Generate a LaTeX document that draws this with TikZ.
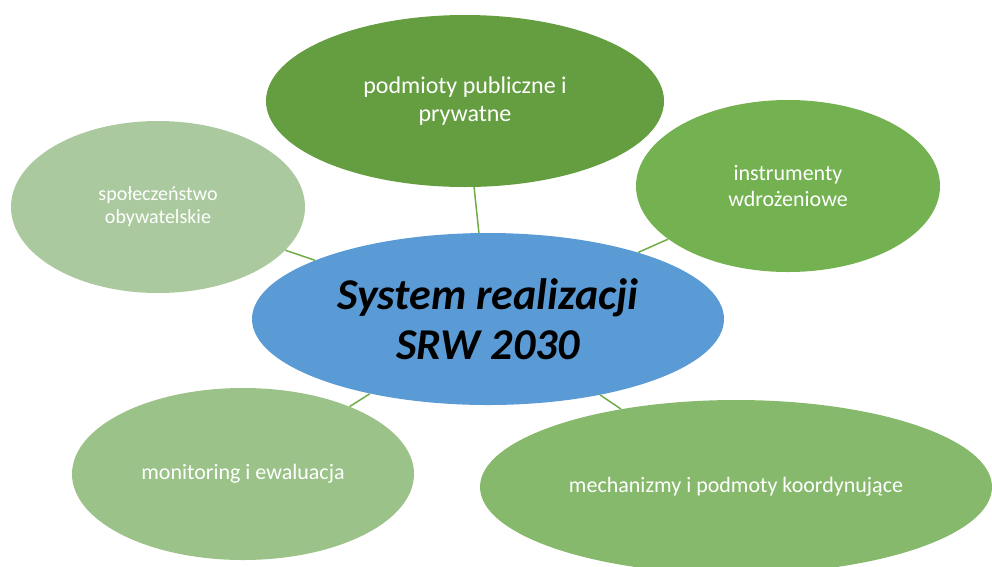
\documentclass[tikz,border=0pt]{standalone}
\usepackage{fontspec}
\setmainfont{Carlito}
\usepackage{xcolor}
\usetikzlibrary{positioning,shapes.geometric}

\definecolor{hubblue}{HTML}{5B9BD5}
\definecolor{darkgreen}{HTML}{659E40}
\definecolor{midgreen}{HTML}{74B150}
\definecolor{softgreen}{HTML}{87B96D}
\definecolor{palegreen}{HTML}{9BC288}
\definecolor{fadegreen}{HTML}{ABC99E}
\definecolor{linkgreen}{HTML}{70AD47}

\begin{document}
\begin{tikzpicture}[x=1pt, y=-1pt,
    bubble/.style={ellipse, inner sep=0pt, text=white, align=center,
        font=\fontsize{22}{27}\selectfont},
    hub/.style={ellipse, inner sep=0pt, fill=hubblue, align=center,
        font=\fontsize{44}{50}\selectfont\bfseries\itshape},
    link/.style={draw=linkgreen, line width=1.5pt}]

% Frame
\clip (0,0) rectangle (992,566);

% Centre
\node[hub, minimum width=472pt, minimum height=172pt] (system) at (488,319) {System realizacji\\SRW 2030};

% Surrounding ellipses
\node[bubble, fill=darkgreen, minimum width=398pt, minimum height=172pt,
    font=\fontsize{24}{28}\selectfont] (podmioty) at (465,101) {podmioty publiczne i\\prywatne};
\node[bubble, fill=fadegreen, minimum width=294pt, minimum height=172pt,
    font=\fontsize{20}{23}\selectfont] (spoleczenstwo) at (158,207) {społeczeństwo\\obywatelskie};
\node[bubble, fill=midgreen, minimum width=304pt, minimum height=172pt,
    font=\fontsize{22}{26}\selectfont] (instrumenty) at (788,186) {instrumenty\\wdrożeniowe};
\node[bubble, fill=palegreen, minimum width=342pt, minimum height=172pt] (monitoring) at (243,474) {monitoring i ewaluacja};
\node[bubble, fill=softgreen, minimum width=512pt, minimum height=174pt] (mechanizmy) at (736,487) {mechanizmy i podmoty koordynujące};

% Connectors
\draw[link] (system) -- (podmioty);
\draw[link] (system) -- (spoleczenstwo);
\draw[link] (system) -- (instrumenty);
\draw[link] (system) -- (monitoring);
\draw[link] (system) -- (mechanizmy);

\end{tikzpicture}
\end{document}
